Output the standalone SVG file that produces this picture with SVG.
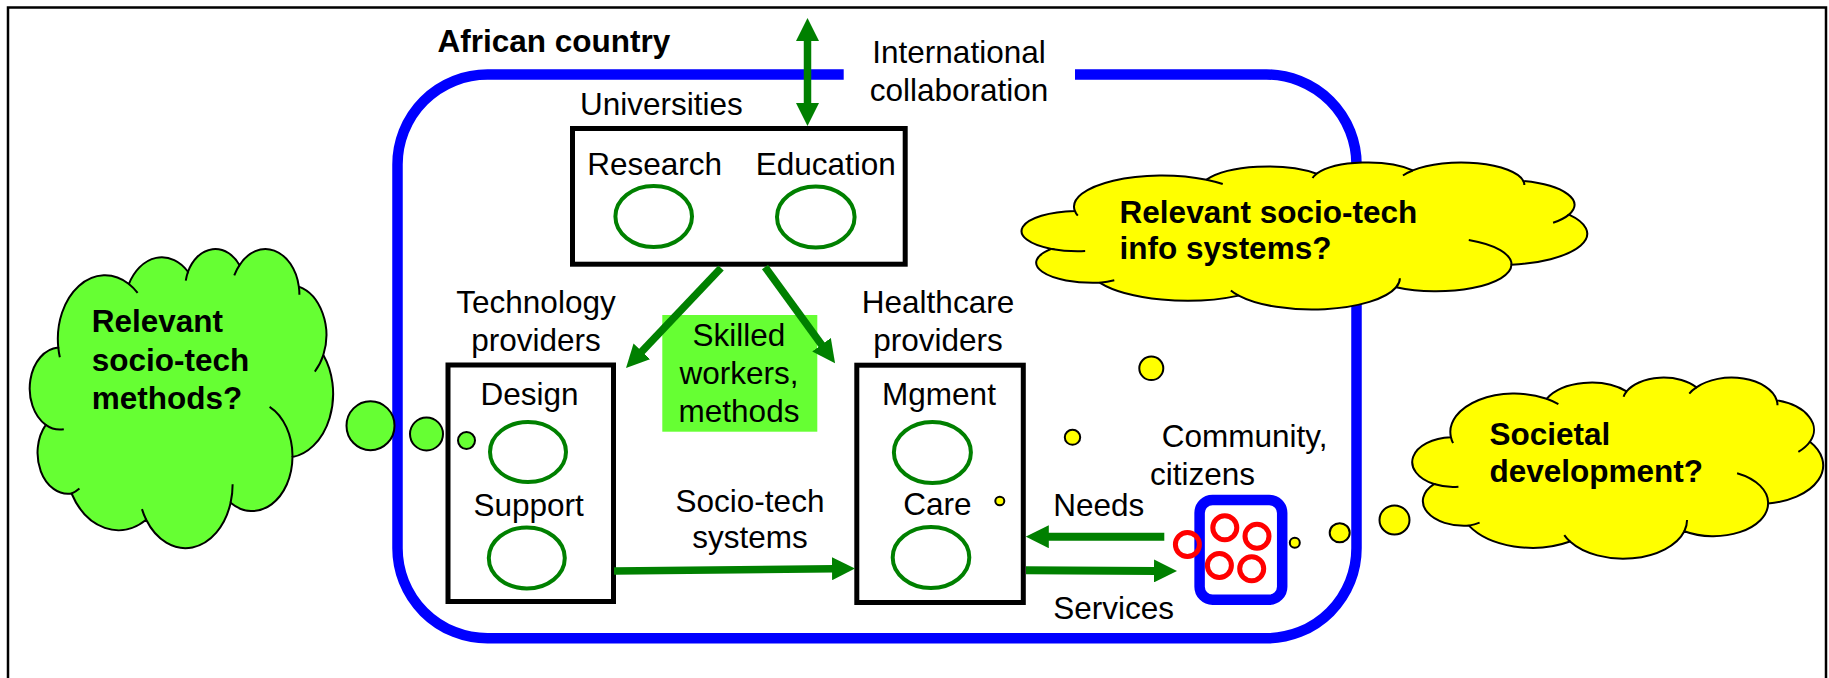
<svg xmlns="http://www.w3.org/2000/svg" width="1829" height="678" viewBox="0 0 1829 678">
<style>
text{font-family:"Liberation Sans",Arial,sans-serif;font-size:31.5px;fill:#000}
.b{font-weight:bold}
.m{text-anchor:middle}
.box{fill:#fff;stroke:#000;stroke-width:5}
.ov{fill:none;stroke:#008000;stroke-width:4}
.arr{stroke:#008000;stroke-width:7.5;fill:none;marker-end:url(#ah)}
.cl{stroke:#000;stroke-width:2;vector-effect:non-scaling-stroke}
.cr{fill:none;stroke:#000;stroke-width:2;vector-effect:non-scaling-stroke}
.dy{fill:#ffff00;stroke:#000;stroke-width:2}
.dg{fill:#66ff33;stroke:#000;stroke-width:2}
.red{fill:none;stroke:#ff0000;stroke-width:5}
</style>
<defs>
<marker id="ah" viewBox="0 0 23 23" refX="2" refY="11.5" markerWidth="23" markerHeight="23" markerUnits="userSpaceOnUse" orient="auto-start-reverse"><path d="M0,0L23,11.5L0,23Z" fill="#008000"/></marker>
<path id="cloud" class="cl" d="M3900,14370 A6753,9190 0 0 1 14004,5202 A5333,7267 0 0 1 22455,3433 A4365,5945 0 0 1 29832,2481 A4857,6595 0 0 1 38316,5576 A5333,7273 0 0 1 41817,15460 A6775,9220 0 0 1 37403,30204 A5785,7867 0 0 1 28554,36814 A6752,9215 0 0 1 16479,39266 A7720,10543 0 0 1 5802,35471 A4360,5918 0 0 1 2112,25549 A4345,5945 0 0 1 3900,14370 Z"/>
<path id="crease" class="cr" d="M3900,14370 A6753,9190 0 0 0 4127,15789 M14004,5202 A6753,9190 0 0 1 15250,6478 M22455,3433 A4365,5945 0 0 0 22141,4720 M29832,2481 A4857,6595 0 0 0 29078,3952 M38316,5576 A4857,6595 0 0 1 38393,6746 M41817,15460 A5333,7273 0 0 1 40598,17854 M34129,22954 A5785,7867 0 0 1 37403,30204 M28554,36814 A6752,9215 0 0 0 28843,34143 M16479,39266 A6752,9215 0 0 1 15873,37733 M5802,35471 A4360,5918 0 0 0 6928,34751 M2112,25549 A4345,5945 0 0 0 4693,26177"/>
</defs>
<rect width="1829" height="678" fill="#fff"/>
<rect id="frame" x="8" y="7.5" width="1818" height="700" fill="none" stroke="#000" stroke-width="2.5"/>

<g id="country">
<path d="M1075,74.5 H1266.5 A90,90 0 0 1 1356.5,164.5 V548.3 A90,90 0 0 1 1266.5,638.3 H487.5 A90,90 0 0 1 397.5,548.3 V164.5 A90,90 0 0 1 487.5,74.5 H843.7" fill="none" stroke="#0000ff" stroke-width="10.5"/>
<text x="437.5" y="51.7" class="b">African country</text>
<text x="959" y="62.7" class="m">International</text>
<text x="959" y="101" class="m">collaboration</text>
</g>

<g id="universities">
<text x="580" y="115">Universities</text>
<rect class="box" x="572.5" y="128.5" width="332.7" height="135.7"/>
<text x="587.3" y="175">Research</text>
<text x="755.7" y="175">Education</text>
<ellipse class="ov" cx="653.7" cy="216.5" rx="38.3" ry="30.5"/>
<ellipse class="ov" cx="815.8" cy="217" rx="38.8" ry="30.5"/>
</g>

<g id="skilled">
<rect x="662.3" y="315" width="155" height="116.7" fill="#66ff33"/>
<text x="739" y="346" class="m">Skilled</text>
<text x="739" y="384.3" class="m">workers,</text>
<text x="739" y="421.7" class="m">methods</text>
</g>

<g id="technology">
<text x="536" y="313.3" class="m">Technology</text>
<text x="536" y="350.7" class="m">providers</text>
<rect class="box" x="448" y="365" width="165.5" height="236.5"/>
<text x="529.5" y="405" class="m">Design</text>
<ellipse class="ov" cx="528" cy="452" rx="38" ry="30"/>
<text x="528.6" y="516" class="m">Support</text>
<ellipse class="ov" cx="526.8" cy="558" rx="38" ry="30.5"/>
</g>

<g id="healthcare">
<text x="938" y="313.3" class="m">Healthcare</text>
<text x="938" y="350.7" class="m">providers</text>
<rect class="box" x="856.8" y="365.2" width="166.5" height="237.3"/>
<text x="939" y="405" class="m">Mgment</text>
<ellipse class="ov" cx="932.4" cy="452.5" rx="38.5" ry="30.5"/>
<text x="937.4" y="515" class="m">Care</text>
<ellipse class="ov" cx="931" cy="557.5" rx="38.3" ry="30.5"/>
</g>

<g id="community">
<text x="1161.7" y="447.3">Community,</text>
<text x="1150" y="485">citizens</text>
<rect x="1199.6" y="500" width="82.6" height="99.7" rx="13" fill="#fff" stroke="#0000ff" stroke-width="10.5"/>
<circle class="red" cx="1187.4" cy="544.5" r="12"/>
<circle class="red" cx="1224.8" cy="527.8" r="12"/>
<circle class="red" cx="1257" cy="536.3" r="12"/>
<circle class="red" cx="1219.4" cy="565.5" r="12"/>
<circle class="red" cx="1251.7" cy="568.8" r="12"/>
</g>

<g id="connectors">
<line class="arr" x1="807.5" y1="39" x2="807.5" y2="105" style="marker-start:url(#ah)"/>
<line class="arr" x1="721" y1="268" x2="640.5" y2="352.8"/>
<line class="arr" x1="765" y1="267" x2="822.7" y2="346.3"/>
<line class="arr" x1="614" y1="571" x2="834" y2="568.7"/>
<line class="arr" x1="1164.3" y1="536.7" x2="1046.8" y2="536.7" style="stroke-width:8"/>
<line class="arr" x1="1026" y1="570.3" x2="1156" y2="570.9" style="stroke-width:8"/>
<text x="750" y="511.7" class="m">Socio-tech</text>
<text x="750" y="548.3" class="m">systems</text>
<text x="1098.8" y="516" class="m">Needs</text>
<text x="1053.3" y="619.3">Services</text>
</g>

<g id="cloud-methods">
<g transform="translate(31,248) scale(0.0069907,0.0069213)">
<use href="#cloud" fill="#66ff33"/>
<use href="#crease"/>
</g>
<ellipse class="dg" cx="370.5" cy="425.7" rx="24" ry="24.5"/>
<ellipse class="dg" cx="426.5" cy="434" rx="16.5" ry="16.5"/>
<ellipse class="dg" cx="466.5" cy="440.5" rx="8.5" ry="8.5"/>
<text x="91.7" y="332" class="b">Relevant</text>
<text x="91.7" y="370.5" class="b">socio-tech</text>
<text x="91.7" y="409" class="b">methods?</text>
</g>

<g id="cloud-info">
<g transform="translate(1024,162) scale(0.0130324,0.0034028)">
<use href="#cloud" fill="#ffff00"/>
<use href="#crease"/>
</g>
<ellipse class="dy" cx="1151.3" cy="368.3" rx="12" ry="11.8"/>
<ellipse class="dy" cx="1072.5" cy="437.3" rx="7.7" ry="7.5"/>
<ellipse class="dy" cx="999.8" cy="501" rx="4.5" ry="4.2"/>
<text x="1119.6" y="222.7" class="b">Relevant socio-tech</text>
<text x="1119.6" y="259.3" class="b">info systems?</text>
</g>

<g id="cloud-societal">
<g transform="translate(1414,377) scale(0.0094676,0.0041898)">
<use href="#cloud" fill="#ffff00"/>
<use href="#crease"/>
</g>
<ellipse class="dy" cx="1394.5" cy="520" rx="15" ry="14.5"/>
<ellipse class="dy" cx="1339.7" cy="532.7" rx="10" ry="9.5"/>
<ellipse class="dy" cx="1294.8" cy="542.7" rx="5" ry="5"/>
<text x="1489.5" y="444.5" class="b">Societal</text>
<text x="1489.5" y="481.7" class="b">development?</text>
</g>
</svg>
